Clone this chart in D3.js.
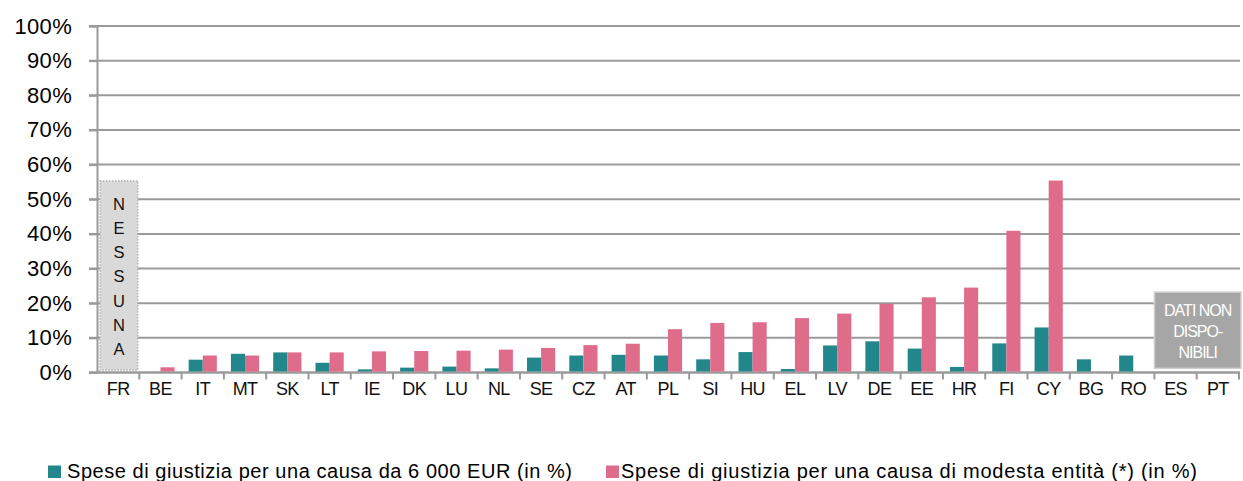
<!DOCTYPE html>
<html><head><meta charset="utf-8">
<script src="https://cdn.jsdelivr.net/npm/d3@7"></script>
<style>body{margin:0;background:#fff;}svg{display:block;font-family:"Liberation Sans",Arial,sans-serif;}</style>
</head><body>
<svg id="c" width="1243" height="481"></svg>
<script>
const categories = ["FR","BE","IT","MT","SK","LT","IE","DK","LU","NL","SE","CZ","AT","PL","SI","HU","EL","LV","DE","EE","HR","FI","CY","BG","RO","ES","PT"];
const series6000 = [null,0.3,3.7,5.4,5.8,2.8,0.9,1.4,1.7,1.2,4.3,4.9,5.1,4.9,3.8,5.9,1.0,7.8,9.0,6.9,1.6,8.4,13.0,3.8,4.9,null,null];
const seriesSmall = [null,1.5,4.9,4.9,5.8,5.8,6.1,6.2,6.3,6.6,7.1,7.9,8.3,12.5,14.3,14.5,15.7,17.0,19.8,21.7,24.5,40.9,55.4,null,null,null,null];
const seriesNames = ["Spese di giustizia per una causa da 6 000 EUR (in %)","Spese di giustizia per una causa di modesta entità (*) (in %)"];
const yTicks = [0,10,20,30,40,50,60,70,80,90,100];
const noneLetters = ["N","E","S","S","U","N","A"];
const noneCategory = "FR";
const noneHeight = 55.3;
const naCategories = ["ES","PT"];
const naHeight = 23.2;
const naLines = ["DATI NON","DISPO-","NIBILI"];
const colors = ["#22878b","#e06c8c"];

const svg = d3.select("#c");
const plotL = 97, plotR = 1239, plotT = 26, plotB = 372.5;
const x = d3.scaleBand().domain(categories).range([plotL,plotR]).padding(0);
const y = d3.scaleLinear().domain([0,100]).range([plotB,plotT]);
const bw = x.bandwidth();
const x1 = d3.scaleBand().domain([0,1]).range([bw/6, bw*5/6]).padding(0);

// gridlines
svg.append("g").selectAll("line").data(yTicks).join("line")
  .attr("x1",plotL-8).attr("x2",plotR+1)
  .attr("y1",d=>y(d)).attr("y2",d=>y(d))
  .attr("stroke","#9a9a9a").attr("stroke-width",2);

// y axis
const yAxis = svg.append("g").attr("transform",`translate(${plotL},0)`)
  .call(d3.axisLeft(y).tickValues(yTicks).tickFormat(d=>d+"%").tickSize(8).tickPadding(17));
yAxis.select(".domain").attr("stroke","#9a9a9a").attr("stroke-width",2);
yAxis.selectAll(".tick line").attr("stroke","#9a9a9a").attr("stroke-width",2);
yAxis.selectAll("text").attr("font-size",22).attr("fill","#000").attr("letter-spacing","0.3px")
  .attr("font-family","Liberation Sans, Arial, sans-serif");

// x axis
const xAxis = svg.append("g").attr("transform",`translate(0,${plotB})`)
  .call(d3.axisBottom(x).tickSize(0).tickPadding(10));
xAxis.select(".domain").remove();
xAxis.selectAll("text").attr("font-size",18).attr("fill","#111").attr("letter-spacing","-0.6px")
  .attr("font-family","Liberation Sans, Arial, sans-serif");
const bounds = categories.map(c=>x(c)+bw);
svg.append("g").selectAll("line").data(bounds).join("line")
  .attr("x1",d=>d).attr("x2",d=>d).attr("y1",plotB).attr("y2",plotB+7)
  .attr("stroke","#9a9a9a").attr("stroke-width",2);
svg.append("line").attr("x1",plotL-8).attr("x2",plotR+1).attr("y1",plotB).attr("y2",plotB)
  .attr("stroke","#9a9a9a").attr("stroke-width",2);

// bars
const rows = categories.map((c,i)=>({c, v:[series6000[i], seriesSmall[i]]}));
const g = svg.append("g");
rows.forEach(r=>{
  r.v.forEach((val,k)=>{
    if(val==null) return;
    g.append("rect")
      .attr("x", x(r.c)+x1(k))
      .attr("y", y(val))
      .attr("width", x1.bandwidth())
      .attr("height", plotB - y(val) - 1)
      .attr("fill", colors[k]);
  });
});

// NESSUNA box
const fx = x(noneCategory);
svg.append("rect").attr("x",fx+3).attr("y",y(noneHeight)).attr("width",bw-4.5)
  .attr("height",y(0.7)-y(noneHeight))
  .attr("fill","#d9d9d9").attr("stroke","#a9a9a9").attr("stroke-width",1.2).attr("stroke-dasharray","1.5,1.5");
svg.append("g").selectAll("text").data(noneLetters).join("text")
  .attr("x",fx+3+(bw-4.5)/2).attr("y",(d,i)=>y(noneHeight)+29+i*24.2)
  .attr("text-anchor","middle").attr("font-size",16.5).attr("fill","#111").text(d=>d);

// DATI NON DISPONIBILI box
const nx0 = x(naCategories[0]), nx1 = x(naCategories[1])+bw;
svg.append("rect").attr("x",nx0).attr("y",y(naHeight)).attr("width",nx1-nx0+2)
  .attr("height",y(1.2)-y(naHeight))
  .attr("fill","#a6a6a6").attr("stroke","#d0d0d0").attr("stroke-width",1.5);
svg.append("g").selectAll("text").data(naLines).join("text")
  .attr("x",(nx0+nx1+2)/2).attr("y",(d,i)=>y(naHeight)+23.5+i*21.2)
  .attr("text-anchor","middle").attr("font-size",16).attr("letter-spacing","-1px").attr("fill","#fff").text(d=>d);

// legend
const leg = [{x:48, tx:67, w:505},{x:606, tx:621, w:576}];
leg.forEach((l,i)=>{
  svg.append("rect").attr("x",l.x).attr("y",465.5).attr("width",13).attr("height",12.5).attr("fill",colors[i]);
  svg.append("text").attr("x",l.tx).attr("y",477.5).attr("font-size",20).attr("fill","#000")
    .attr("textLength",l.w).attr("lengthAdjust","spacing").text(seriesNames[i]);
});
</script>
</body></html>
